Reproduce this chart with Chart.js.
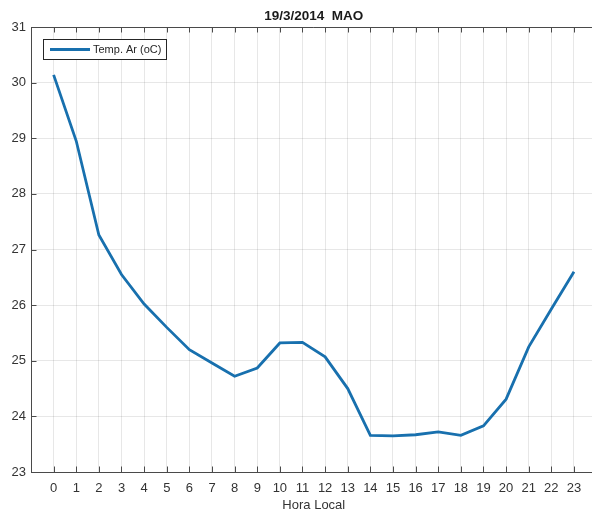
<!DOCTYPE html>
<html>
<head>
<meta charset="utf-8">
<script src="https://cdn.jsdelivr.net/npm/chart.js@4/dist/chart.umd.min.js"></script>
<style>
  html, body { margin: 0; padding: 0; background: #fff; overflow: hidden; }
  canvas { display: block; }
</style>
</head>
<body>
<canvas id="myChart" width="600" height="516" style="width:600px;height:516px"></canvas>
<script>
// data
var hours = [0, 1, 2, 3, 4, 5, 6, 7, 8, 9, 10, 11, 12, 13, 14, 15, 16, 17, 18, 19, 20, 21, 22, 23];
var tempAr = [30.14, 28.95, 27.26, 26.55, 26.02, 25.6, 25.2, 24.96, 24.72, 24.87, 25.32, 25.33,
              25.07, 24.5, 23.66, 23.65, 23.67, 23.72, 23.66, 23.83, 24.31, 25.25, 25.93, 26.6];
var yTicks = [23, 24, 25, 26, 27, 28, 29, 30, 31];
var chartTitle = '19/3/2014  MAO';
var seriesLabel = 'Temp. Ar (oC)';
var xTitle = 'Hora Local';

var axisColor = '#4a4a4a';
var textColor = '#333333';
var gridColor = 'rgba(38,38,38,0.11)';
var lineColor = '#1870ae';
var fontFamily = '"Liberation Sans", Arial, Helvetica, sans-serif';

// matlab style: inward ticks, top box line, title, legend inside axes
var matlabAxes = {
  id: 'matlabAxes',
  afterDraw: function(chart) {
    var ctx = chart.ctx;
    var area = chart.chartArea;
    var xs = chart.scales.x, ys = chart.scales.y;
    var tl = 5.5;
    ctx.save();
    ctx.strokeStyle = axisColor;
    ctx.lineWidth = 1;
    ctx.beginPath();
    ctx.moveTo(area.left, area.top + 0.5);
    ctx.lineTo(area.right, area.top + 0.5);
    hours.forEach(function(h) {
      var px = Math.round(xs.getPixelForValue(h)) + 0.5;
      ctx.moveTo(px, area.bottom);
      ctx.lineTo(px, area.bottom - tl);
      ctx.moveTo(px, area.top);
      ctx.lineTo(px, area.top + tl);
    });
    yTicks.forEach(function(v) {
      var py = Math.round(ys.getPixelForValue(v)) + 0.5;
      ctx.moveTo(area.left, py);
      ctx.lineTo(area.left + tl, py);
    });
    ctx.stroke();

    // title
    ctx.fillStyle = '#1a1a1a';
    ctx.font = 'bold 13.5px ' + fontFamily;
    ctx.textAlign = 'center';
    ctx.textBaseline = 'middle';
    ctx.fillText(chartTitle, (area.left + area.right) / 2, 16.5);

    // legend box
    var ds = chart.data.datasets[0];
    var bx = 43, by = 39, bw = 123, bh = 20;
    ctx.fillStyle = '#fff';
    ctx.fillRect(bx, by, bw, bh);
    ctx.strokeStyle = '#262626';
    ctx.lineWidth = 1;
    ctx.strokeRect(bx + 0.5, by + 0.5, bw, bh);
    ctx.strokeStyle = ds.borderColor;
    ctx.lineWidth = ds.borderWidth;
    ctx.beginPath();
    ctx.moveTo(bx + 7, by + bh / 2 + 0.5);
    ctx.lineTo(bx + 47, by + bh / 2 + 0.5);
    ctx.stroke();
    ctx.fillStyle = '#262626';
    ctx.font = '11px ' + fontFamily;
    ctx.textAlign = 'left';
    ctx.fillText(ds.label, bx + 50, by + bh / 2 + 1);
    ctx.restore();
  }
};

var ctx = document.getElementById('myChart').getContext('2d');
var myChart = new Chart(ctx, {
  type: 'line',
  data: {
    datasets: [{
      label: seriesLabel,
      data: hours.map(function(h, i) { return { x: h, y: tempAr[i] }; }),
      borderColor: lineColor,
      backgroundColor: lineColor,
      borderWidth: 2.8,
      pointRadius: 0,
      tension: 0,
      fill: false
    }]
  },
  options: {
    responsive: false,
    animation: false,
    devicePixelRatio: 1,
    layout: { padding: { top: 27, right: 3.4, left: 0, bottom: 0 } },
    plugins: {
      legend: { display: false },
      title: { display: false },
      tooltip: { enabled: false }
    },
    scales: {
      x: {
        type: 'linear',
        min: -1,
        max: 24,
        afterBuildTicks: function(scale) {
          scale.ticks = hours.map(function(h) { return { value: h }; });
        },
        afterFit: function(scale) { scale.height = 44; },
        grid: { color: gridColor, drawTicks: false },
        border: { display: true, color: axisColor, width: 1 },
        ticks: {
          autoSkip: false,
          maxRotation: 0,
          padding: 9,
          color: textColor,
          font: { family: fontFamily, size: 13 }
        },
        title: {
          display: true,
          text: xTitle,
          color: textColor,
          padding: { top: 0, bottom: 3 },
          font: { family: fontFamily, size: 13 }
        }
      },
      y: {
        min: 23,
        max: 31,
        afterBuildTicks: function(scale) {
          scale.ticks = yTicks.map(function(v) { return { value: v }; });
        },
        afterFit: function(scale) { scale.width = 31; },
        grid: { color: gridColor, drawTicks: false },
        border: { display: true, color: axisColor, width: 1 },
        ticks: {
          padding: 5,
          color: textColor,
          font: { family: fontFamily, size: 13 }
        }
      }
    }
  },
  plugins: [matlabAxes]
});
</script>
</body>
</html>
